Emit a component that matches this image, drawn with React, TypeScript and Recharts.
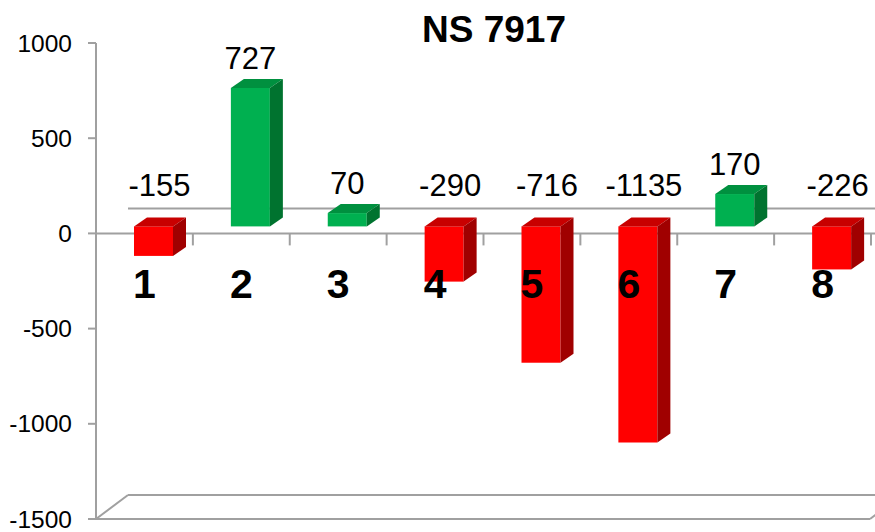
import { BarChart, Bar, XAxis, YAxis, LabelList } from "recharts";

const categories = ["1", "2", "3", "4", "5", "6", "7", "8"];
const values = [-155, 727, 70, -290, -716, -1135, 170, -226];
const yTicks = [-1500, -1000, -500, 0, 500, 1000];
const TITLE = "NS 7917";

const data = categories.map((cat, i) => ({ cat, v: values[i] }));

const W = 875;
const H = 532;
const MARGIN = { top: 43, right: 4, bottom: 13, left: 0 };
const Y_AXIS_W = 96;
const Y_MIN = -1500;
const Y_MAX = 1000;
const PLOT_L = MARGIN.left + Y_AXIS_W;
const PLOT_R = W - MARGIN.right;
const PLOT_T = MARGIN.top;
const PLOT_B = H - MARGIN.bottom;
const BAND = (PLOT_R - PLOT_L) / categories.length;
const yPx = (v: number) => PLOT_T + ((Y_MAX - v) / (Y_MAX - Y_MIN)) * (PLOT_B - PLOT_T);
const ZERO_Y = yPx(0);

// fake 3D: depth of the floor / back wall, and of each bar
const WALL_DX = 32;
const WALL_DY = 24;
const BAR_DX = 9;
const BAR_DY = 7;
const DEPTH_X = 13;
const DEPTH_Y = 9;

const FONT = "'Liberation Sans', Arial, sans-serif";
const GRAY = "#a0a0a0";

const COLORS = {
  pos: { front: "#00b050", top: "#00903f", side: "#00732f" },
  neg: { front: "#ff0000", top: "#c80000", side: "#a00000" },
};

function Bar3D(props: any) {
  const { x, y, width, height, payload } = props;
  if (x == null || y == null) return null;
  const top = Math.min(y, y + height) - BAR_DY;
  const bottom = Math.max(y, y + height) - BAR_DY;
  const left = x + BAR_DX;
  const right = left + width;
  const c = payload.v >= 0 ? COLORS.pos : COLORS.neg;
  return (
    <g>
      <rect x={left} y={top} width={width} height={bottom - top} fill={c.front} />
      <polygon
        points={`${left},${top} ${left + DEPTH_X},${top - DEPTH_Y} ${right + DEPTH_X},${top - DEPTH_Y} ${right},${top}`}
        fill={c.top}
      />
      <polygon
        points={`${right},${top} ${right + DEPTH_X},${top - DEPTH_Y} ${right + DEPTH_X},${bottom - DEPTH_Y} ${right},${bottom}`}
        fill={c.side}
      />
    </g>
  );
}

function ValueLabel(props: any) {
  const { x, y, width, height, index } = props;
  const v = values[index];
  const top = Math.min(y, y + height);
  const cx = x + BAR_DX + width / 2 + (v < 0 ? 6 : 0);
  const baseline = v >= 0 ? top - 26 : ZERO_Y - 37;
  return (
    <text x={cx} y={baseline} textAnchor="middle" fontSize={31} fill="#000" fontFamily={FONT}>
      {v}
    </text>
  );
}

function CategoryLabel(props: any) {
  const { x, width, index } = props;
  return (
    <text
      x={x + width / 2}
      y={ZERO_Y + 65}
      textAnchor="middle"
      fontSize={41}
      fontWeight="bold"
      fill="#000"
      fontFamily={FONT}
    >
      {categories[index]}
    </text>
  );
}

// floor, back zero line, front zero line with category ticks
function Frame() {
  const ticks = categories.map((_, i) => PLOT_L + i * BAND).concat(PLOT_R);
  return (
    <g stroke={GRAY} strokeWidth={2} fill="none">
      <line x1={PLOT_L + WALL_DX} y1={ZERO_Y - WALL_DY - 1} x2={W} y2={ZERO_Y - WALL_DY - 1} />
      <line x1={PLOT_L} y1={PLOT_B} x2={PLOT_R - 1} y2={PLOT_B} />
      <line x1={PLOT_L + WALL_DX} y1={PLOT_B - WALL_DY} x2={W} y2={PLOT_B - WALL_DY} />
      <line x1={PLOT_L} y1={PLOT_B} x2={PLOT_L + WALL_DX} y2={PLOT_B - WALL_DY} />
      <line x1={PLOT_R - 1} y1={PLOT_B} x2={PLOT_R + 7} y2={PLOT_B - 6} />
      <line x1={PLOT_L} y1={ZERO_Y} x2={W} y2={ZERO_Y} />
      {ticks.map((t) => (
        <line key={t} x1={t} y1={ZERO_Y} x2={t} y2={ZERO_Y + 12} />
      ))}
    </g>
  );
}

function Title() {
  return (
    <text x={494} y={42} textAnchor="middle" fontSize={37} fontWeight="bold" fill="#000" fontFamily={FONT}>
      {TITLE}
    </text>
  );
}

export default function App() {
  return (
    <div style={{ position: "absolute", left: 0, top: 0, width: W, height: H, background: "#fff" }}>
      <BarChart width={W} height={H} data={data} margin={MARGIN} style={{ fontFamily: FONT }}>
        <Frame />
        <XAxis dataKey="cat" hide />
        <YAxis
          width={Y_AXIS_W}
          domain={[Y_MIN, Y_MAX]}
          ticks={yTicks}
          interval={0}
          allowDataOverflow
          stroke={GRAY}
          strokeWidth={2}
          tickSize={8}
          tickMargin={16}
          tick={{ fill: "#000", fontSize: 24.5, fontFamily: FONT }}
        />
        <Bar dataKey="v" barSize={39} shape={<Bar3D />} isAnimationActive={false}>
          <LabelList dataKey="v" content={<ValueLabel />} />
          <LabelList dataKey="cat" content={<CategoryLabel />} />
        </Bar>
        <Title />
      </BarChart>
    </div>
  );
}
